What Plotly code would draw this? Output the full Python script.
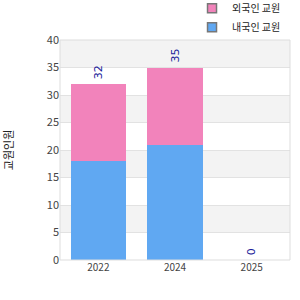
import plotly.graph_objects as go

years = ["2022", "2024", "2025"]
series_bottom_name = "내국인 교원"
series_top_name = "외국인 교원"
bottom_vals = [18, 21, 0]
top_vals = [14, 14, 0]
totals = [b + t for b, t in zip(bottom_vals, top_vals)]
y_title = "교원인원"
color_bottom = "#60A8F2"
color_top = "#F283BB"

fig = go.Figure()
fig.add_trace(go.Bar(x=years, y=bottom_vals, name=series_bottom_name, showlegend=False,
                     marker=dict(color=color_bottom, line=dict(width=0))))
fig.add_trace(go.Bar(x=years, y=top_vals, name=series_top_name, showlegend=False,
                     marker=dict(color=color_top, line=dict(width=0))))
for name, col in [(series_top_name, color_top), (series_bottom_name, color_bottom)]:
    fig.add_trace(go.Scatter(x=[years[0]], y=[None], mode="markers", name=name,
                             marker=dict(symbol="square", size=9, color=col,
                                         line=dict(color="#777777", width=1.5))))

shapes = []
for lo in range(0, 40, 5):
    if (lo // 5) % 2 == 1:
        shapes.append(dict(type="rect", xref="paper", yref="y", x0=0, x1=1, y0=lo, y1=lo + 5,
                           fillcolor="#F3F3F3", line=dict(width=0), layer="below"))
shapes.append(dict(type="rect", xref="paper", yref="paper", x0=0, x1=1, y0=0, y1=1,
                   line=dict(color="#DDDDDD", width=1), fillcolor="rgba(0,0,0,0)", layer="above"))

annotations = []
for i, t in enumerate(totals):
    annotations.append(dict(x=i, y=t, xref="x", yref="y", text=str(t), showarrow=False,
                            textangle=-90, yanchor="bottom", yshift=3,
                            font=dict(size=11, color="#1a1a99", family="DejaVu Sans")))

fig.update_layout(
    width=300, height=300,
    margin=dict(l=60, r=10, t=40, b=40, autoexpand=False),
    barmode="stack", bargap=0.28,
    plot_bgcolor="white", paper_bgcolor="white",
    shapes=shapes, annotations=annotations,
    font=dict(family="Noto Sans CJK KR, DejaVu Sans", size=11, color="#444444"),
    legend=dict(x=0.574, y=1.21, xanchor="left", yanchor="top", traceorder="normal",
                font=dict(size=10, color="#222222"), bgcolor="rgba(0,0,0,0)",
                itemwidth=30, tracegroupgap=0),
    showlegend=True,
    xaxis=dict(type="category", range=[-0.5, 2.5], showgrid=False, showline=False, ticks="",
               tickfont=dict(size=10, color="#444444")),
    yaxis=dict(range=[0, 40], dtick=5, showgrid=True, gridcolor="#E2E2E2", zeroline=False,
               showline=False, ticks="", tickfont=dict(size=11, color="#444444"),
               title=dict(text=y_title, font=dict(size=11, color="#222222"), standoff=35)),
)
fig.write_html("out.html")
